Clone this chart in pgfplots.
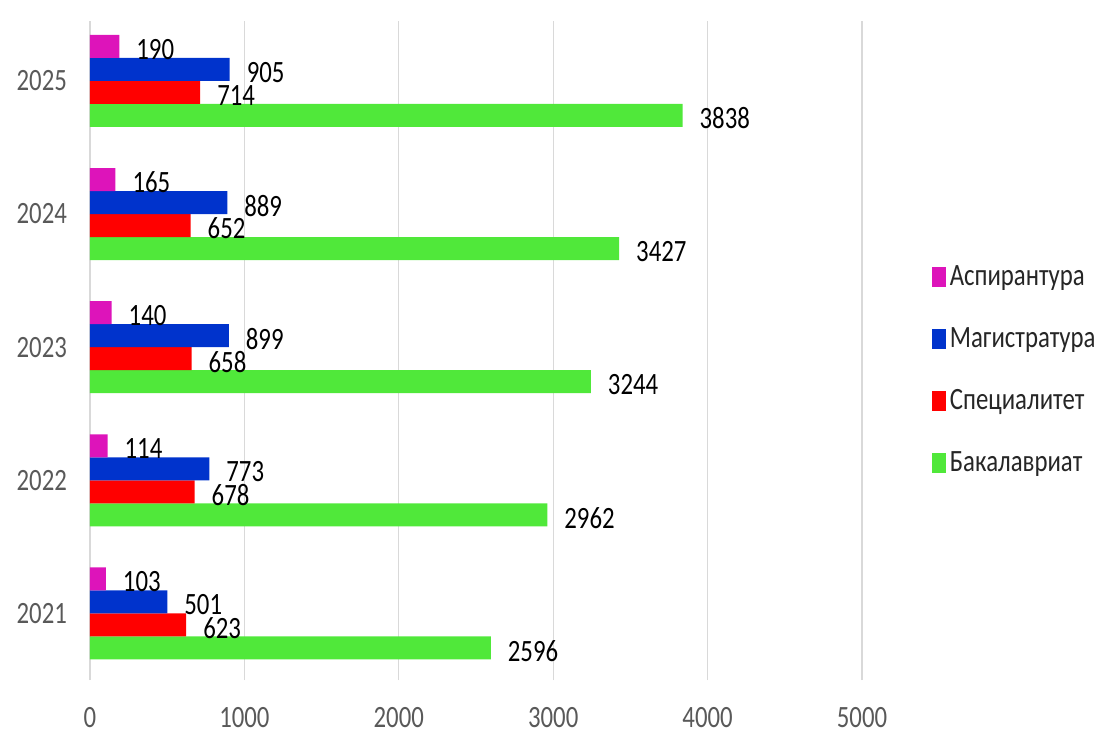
\documentclass[border=0pt]{standalone}
\usepackage{pgfplots}
\pgfplotsset{compat=1.18}
\usepackage{fontspec}
\setmainfont[FakeStretch=0.8]{Carlito}
\definecolor{cAsp}{RGB}{221,20,186}
\definecolor{cMag}{RGB}{0,51,204}
\definecolor{cSpec}{RGB}{255,0,0}
\definecolor{cBak}{RGB}{80,232,58}
\definecolor{tickgrey}{RGB}{89,89,89}
\definecolor{gridgrey}{RGB}{217,217,217}
\begin{document}
\begin{tikzpicture}
\path[use as bounding box] (-45pt,-27pt) rectangle (511.5pt,340pt);
\begin{axis}[
  scale only axis,
  width=386pt, height=329.5pt,
  xbar=0pt, bar width=11.5pt,
  xmin=0, xmax=5000,
  ymin=0.5, ymax=5.45,
  ytick={1,2,3,4,5},
  yticklabels={2021,2022,2023,2024,2025},
  xtick={0,1000,2000,3000,4000,5000},
  axis line style={draw=none},
  major tick length=0pt,
  xmajorgrids, major grid style={gridgrey, line width=0.6pt},
  tick label style={font=\fontsize{15.5}{17}\selectfont, text=tickgrey},
  /pgf/number format/assume math mode=true,
  /pgf/number format/1000 sep={},
  xticklabel style={yshift=-10pt},
  yticklabel style={xshift=-8pt},
  nodes near coords,
  every node near coord/.append style={font=\fontsize{15.5}{17}\selectfont, text=black, anchor=west, xshift=5pt, yshift=-1.5pt},
  reverse legend,
  legend style={draw=none, at={(1.09,0.47)}, anchor=west, font=\fontsize{15.5}{17}\selectfont, text=black!85, row sep=15.5pt, inner sep=0pt},
  legend cell align=left,
  legend image code/.code={\fill[#1] (0pt,-5pt) rectangle (7pt,5pt);},
]
\addplot[fill=cBak, draw=none] coordinates {(2596,1) (2962,2) (3244,3) (3427,4) (3838,5)};
\addplot[fill=cSpec, draw=none] coordinates {(623,1) (678,2) (658,3) (652,4) (714,5)};
\addplot[fill=cMag, draw=none] coordinates {(501,1) (773,2) (899,3) (889,4) (905,5)};
\addplot[fill=cAsp, draw=none] coordinates {(103,1) (114,2) (140,3) (165,4) (190,5)};
\legend{Бакалавриат, Специалитет, Магистратура, Аспирантура}
\end{axis}
\end{tikzpicture}
\end{document}
